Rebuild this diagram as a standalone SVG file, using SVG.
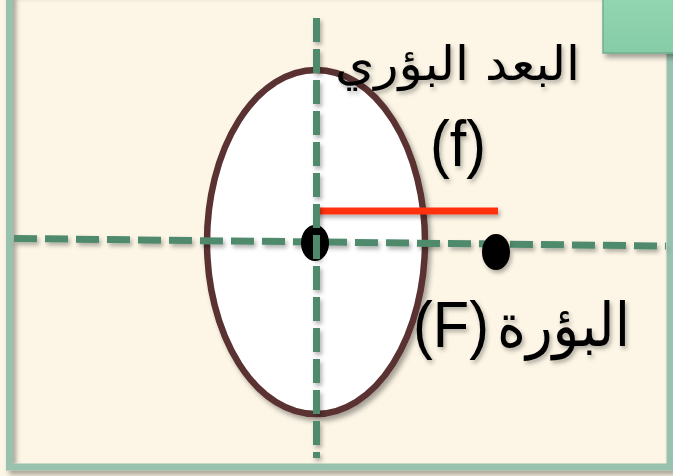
<svg xmlns="http://www.w3.org/2000/svg" width="673" height="476" viewBox="0 0 673 476">
<defs>
<filter id="sh" filterUnits="userSpaceOnUse" x="-20" y="-20" width="720" height="520">
<feDropShadow dx="3" dy="4" stdDeviation="2.5" flood-color="#000" flood-opacity="0.35"/>
</filter>
<filter id="tsh" filterUnits="userSpaceOnUse" x="-20" y="-20" width="720" height="520">
<feDropShadow dx="2" dy="3" stdDeviation="2" flood-color="#000" flood-opacity="0.3"/>
</filter>
<linearGradient id="gbox" x1="0" y1="0" x2="0" y2="1">
<stop offset="0" stop-color="#92d6b2"/>
<stop offset="1" stop-color="#86cca6"/>
</linearGradient>
</defs>
<style>
.dash{stroke:#4f8a6c;stroke-width:7;fill:none}
.lbl{font-family:"DejaVu Sans","Liberation Sans",sans-serif;fill:#000}
.lat{font-family:"Liberation Sans",Arial,sans-serif;fill:#000}
</style>
<rect width="673" height="476" fill="#fdf6e6"/>
<g id="frame">
<rect x="9.5" y="-10" width="660.5" height="477" fill="none" stroke="#98c1ae" stroke-width="7" filter="url(#sh)"/>
</g>
<g id="corner-box">
<rect x="603" y="-5" width="80" height="58" fill="url(#gbox)" stroke="#6fae8d" stroke-width="1.5" filter="url(#sh)"/>
</g>
<g id="lens">
<ellipse cx="316" cy="242" rx="109" ry="172" fill="#ffffff" stroke="#5a3030" stroke-width="6.5" filter="url(#sh)"/>
</g>
<g id="connectors">
<line id="focal-length" x1="315" y1="211" x2="498" y2="211" stroke="#ff3210" stroke-width="7" filter="url(#tsh)"/>
<line id="axis" x1="14" y1="238.5" x2="666" y2="246" class="dash" stroke-dasharray="23 8" filter="url(#tsh)"/>
</g>
<g id="center-point">
<ellipse cx="315" cy="243" rx="14" ry="18" fill="#000"/>
</g>
<g id="focus-point">
<ellipse cx="496" cy="252" rx="14" ry="18" fill="#000" filter="url(#tsh)"/>
</g>
<g id="vertical-axis">
<line x1="316.5" y1="18" x2="316.5" y2="458" class="dash" stroke-dasharray="24 7" filter="url(#tsh)"/>
</g>
<g id="label-focal-length" filter="url(#tsh)">
<text class="lbl" x="580" y="80" font-size="47" direction="rtl" text-anchor="start" textLength="245" lengthAdjust="spacingAndGlyphs">البعد البؤري</text>
<text class="lat" x="458" y="166" font-size="65" text-anchor="middle" textLength="56" lengthAdjust="spacingAndGlyphs">(f)</text>
</g>
<g id="label-focus" filter="url(#tsh)">
<text class="lat" x="451" y="347" font-size="64" text-anchor="middle" textLength="76" lengthAdjust="spacingAndGlyphs">(F)</text>
<text class="lbl" x="630" y="346" font-size="60" direction="rtl" text-anchor="start" textLength="133" lengthAdjust="spacingAndGlyphs">البؤرة</text>
</g>
</svg>
